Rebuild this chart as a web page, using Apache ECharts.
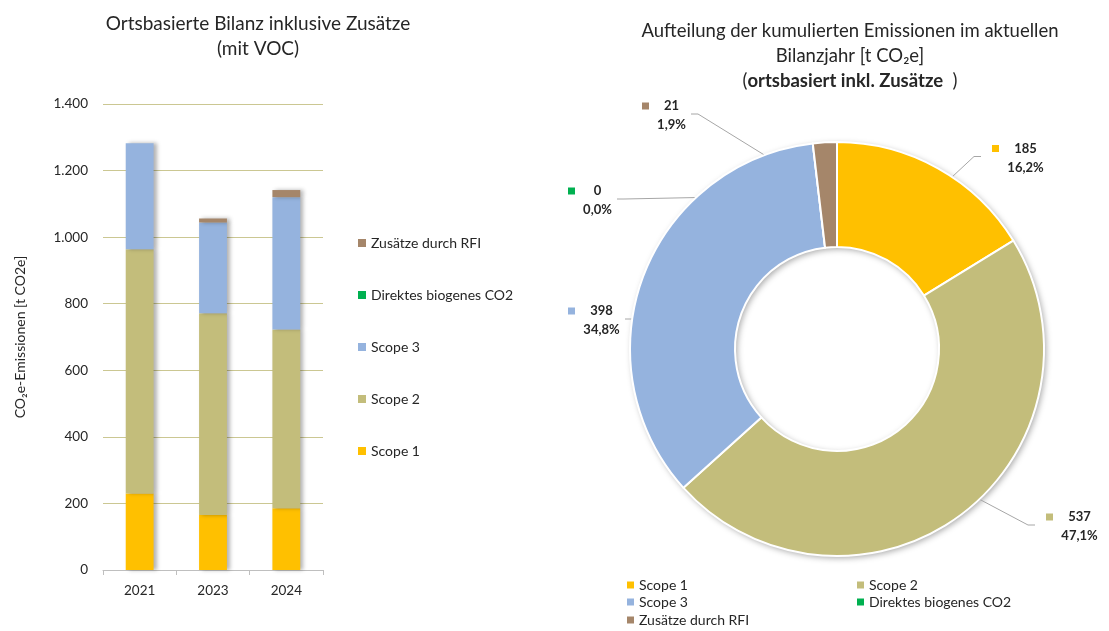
<!DOCTYPE html>
<html><head><meta charset="utf-8">
<script src="https://cdn.jsdelivr.net/npm/echarts@6/dist/echarts.min.js"></script>
<style>html,body{margin:0;padding:0;background:#fff}#c{width:1109px;height:631px}</style>
</head><body><div id="c"></div>
<script>
// ---- data ----
const categories = ['2021', '2023', '2024'];
const seriesNames = ['Scope 1', 'Scope 2', 'Scope 3', 'Direktes biogenes CO2', 'Zusätze durch RFI'];
const scope1 = [230, 165, 185.2];
const scope2 = [734, 606, 537.4];
const scope3 = [318, 273, 397.6];
const biogen = [0, 0, 0];
const rfi = [0, 12, 21.3];
const yMin = 0, yMax = 1400, yInterval = 200;

// ---- styles / layout ----
const FONT = 'Lato';
const TXT = '#262626';
const colors = ['#FFC000', '#C3BD7B', '#95B3DE', '#00B050', '#A5866A'];
const PIE_CENTER = [837, 349];
const PIE_RADIUS = [102, 207];
const LINE_R = 155;
// top-left anchor of each pie label (square left, text top)
const LABEL_POS = [[992, 139], [1046, 507.5], [568, 301.5], [568, 181.5], [642, 96.5]];

const allSeries = [scope1, scope2, scope3, biogen, rfi];
const pieValues = allSeries.map(a => a[a.length - 1]);
const pieTotal = pieValues.reduce((s, v) => s + v, 0);
const pct = v => (v / pieTotal * 100).toFixed(1).replace('.', ',') + '%';

const ctx = document.createElement('canvas').getContext('2d');
ctx.font = 'bold 13px ' + FONT;
const pw = pieValues.map(v => Math.ceil(ctx.measureText(pct(v)).width));

const rich = { g: { width: 8 }, sp: { width: 15 } };
pieValues.forEach((v, i) => {
  rich['sq' + i] = { width: 7, height: 7, backgroundColor: colors[i] };
  const t = { width: pw[i], align: 'center', fontWeight: 'bold', fontSize: 13, color: TXT, lineHeight: 19, fontFamily: FONT };
  rich['v' + i] = t;
  rich['p' + i] = Object.assign({}, t);
});

// mid angles
const midPts = [];
let cum = 0;
pieValues.forEach(v => {
  const f = (cum + v / 2) / pieTotal;
  cum += v;
  const a = 2 * Math.PI * f;
  midPts.push([PIE_CENTER[0] + LINE_R * Math.sin(a), PIE_CENTER[1] - LINE_R * Math.cos(a)]);
});

const fmtNum = v => String(v).replace(/\B(?=(\d{3})+(?!\d))/g, '.');

const chart = echarts.init(document.getElementById('c'));
const barSeries = seriesNames.map((n, i) => ({
  name: n, type: 'bar', stack: 'total', barWidth: '38%',
  data: allSeries[i],
  itemStyle: { color: colors[i], shadowColor: 'rgba(0,0,0,0.3)', shadowBlur: 4, shadowOffsetX: 3, shadowOffsetY: 0 },
  emphasis: { disabled: true }
}));

const legendBase = {
  orient: 'vertical', itemWidth: 7, itemHeight: 7, icon: 'rect', padding: 0,
  selectedMode: false, itemStyle: { shadowBlur: 0, shadowOffsetX: 0, shadowColor: 'transparent' },
  textStyle: { fontSize: 14, color: TXT, fontFamily: FONT }
};
const lg = (o) => Object.assign({}, legendBase, o);

const option = {
  animation: false,
  textStyle: { fontFamily: FONT },
  title: [
    { text: 'Ortsbasierte Bilanz inklusive Zusätze\n(mit VOC)', left: 253, top: 6, textAlign: 'center',
      textStyle: { fontSize: 19, fontWeight: 'normal', color: TXT, lineHeight: 25, fontFamily: FONT } },
    { text: '{n|Aufteilung der kumulierten Emissionen im aktuellen}\n{n|Bilanzjahr [t CO₂e]}\n{n|(}{b|ortsbasiert inkl. Zusätze}{n|  )}',
      left: 845, top: 14, textAlign: 'center',
      textStyle: { fontWeight: 'normal', rich: {
        n: { fontSize: 18.5, lineHeight: 25, color: TXT, fontWeight: 'normal', fontFamily: FONT },
        b: { fontSize: 18.5, lineHeight: 25, color: TXT, fontWeight: 'bold', fontFamily: FONT } } } }
  ],
  legend: [
    lg({ data: ['Zusätze durch RFI', 'Direktes biogenes CO2', 'Scope 3', 'Scope 2', 'Scope 1'],
      left: 358, top: 236, itemWidth: 8, itemHeight: 8, itemGap: 38 }),
    lg({ data: ['Scope 1'], left: 627, top: 578 }),
    lg({ data: ['Scope 3'], left: 627, top: 595 }),
    lg({ data: ['Zusätze durch RFI'], left: 627, top: 613 }),
    lg({ data: ['Scope 2'], left: 857, top: 578 }),
    lg({ data: ['Direktes biogenes CO2'], left: 857, top: 595 })
  ],
  grid: { left: 103, top: 104, width: 220, height: 466, containLabel: false },
  xAxis: {
    type: 'category', data: categories,
    axisLine: { lineStyle: { color: '#BFBFBF' } },
    axisTick: { show: true, length: 5, lineStyle: { color: '#BFBFBF' } },
    axisLabel: { margin: 14, fontSize: 13.5, color: TXT, fontFamily: FONT }
  },
  yAxis: {
    type: 'value', min: yMin, max: yMax, interval: yInterval,
    axisLine: { show: false }, axisTick: { show: false },
    splitLine: { lineStyle: { color: '#CBC792', width: 1 } },
    axisLabel: { margin: 15, fontSize: 13.5, color: TXT, fontFamily: FONT, formatter: v => fmtNum(v) },
    name: 'CO₂e-Emissionen [t CO2e]', nameLocation: 'middle', nameGap: 76, nameRotate: 90,
    nameTextStyle: { fontSize: 14, color: TXT, fontFamily: FONT }
  },
  series: barSeries.concat([
    { type: 'pie', silent: true, z: 1, center: PIE_CENTER, radius: PIE_RADIUS,
      data: [{ value: 1, name: '__ring' }], label: { show: false }, labelLine: { show: false },
      itemStyle: { color: '#fff', shadowBlur: 6, shadowColor: 'rgba(0,0,0,0.35)', shadowOffsetX: 2, shadowOffsetY: 2 } },
    { type: 'pie', z: 2, center: PIE_CENTER, radius: PIE_RADIUS, startAngle: 90, clockwise: true,
      avoidLabelOverlap: false, silent: true,
      data: seriesNames.map((n, i) => ({ name: n, value: pieValues[i], itemStyle: { color: colors[i] } })),
      itemStyle: { borderColor: '#fff', borderWidth: 2 },
      label: { show: true, position: 'outside', rich: rich, fontFamily: FONT,
        formatter: p => `{sq${p.dataIndex}|}{g|}{v${p.dataIndex}|${Math.round(p.value)}}\n{sp|}{p${p.dataIndex}|${pct(p.value)}}` },
      labelLine: { show: true, lineStyle: { color: '#A6A6A6', width: 1 } },
      labelLayout: function (params) {
        const i = params.dataIndex;
        const pos = LABEL_POS[i];
        const right = pos[0] > PIE_CENTER[0];
        let end, elbow;
        if (right) { end = [pos[0] - 11, pos[1] + 17.5]; elbow = [end[0] - 7, end[1]]; }
        else { end = [pos[0] + 15 + pw[i] + 5, pos[1] + 17.5]; elbow = [end[0] + 7, end[1]]; }
        return { x: pos[0], y: pos[1], align: 'left', verticalAlign: 'top',
          labelLinePoints: [midPts[i], elbow, end] };
      }
    }
  ])
};
chart.setOption(option);
</script></body></html>
